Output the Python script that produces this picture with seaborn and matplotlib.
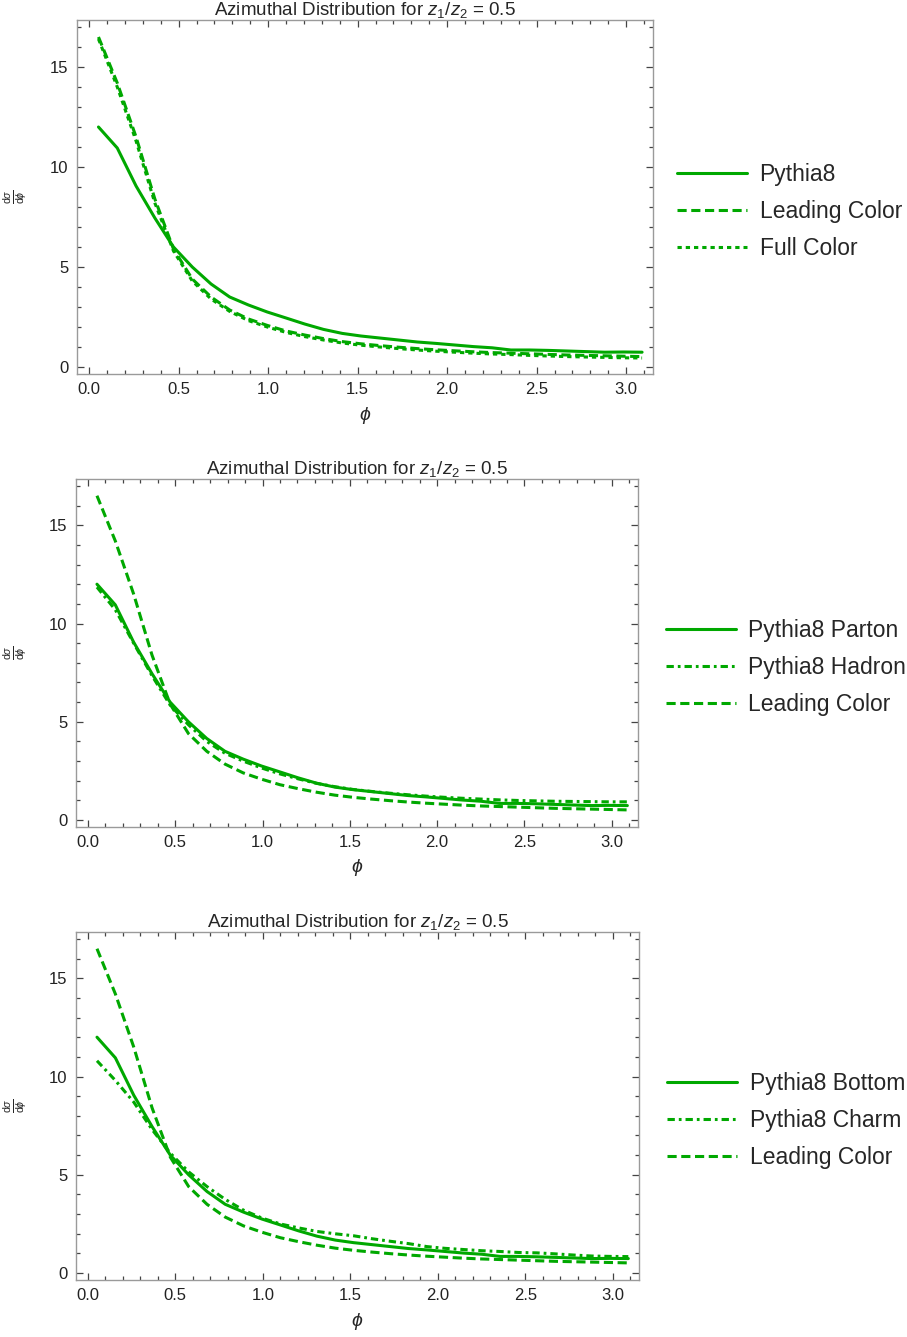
import numpy as np
import pandas as pd
import matplotlib
matplotlib.use("Agg")
import matplotlib.pyplot as plt
from matplotlib.ticker import MultipleLocator
import seaborn as sns

sns.set_style("white")
plt.rcParams["font.family"] = ["Liberation Sans", "DejaVu Sans"]
plt.rcParams["mathtext.fontset"] = "custom"
plt.rcParams["mathtext.rm"] = "Liberation Sans"
plt.rcParams["mathtext.it"] = "Liberation Sans:italic"

# bin centres in phi
phi = [0.052, 0.157, 0.262, 0.367, 0.471, 0.576, 0.681, 0.785, 0.890, 0.995,
       1.100, 1.204, 1.309, 1.414, 1.518, 1.623, 1.728, 1.833, 1.937, 2.042,
       2.147, 2.251, 2.356, 2.461, 2.566, 2.670, 2.775, 2.880, 2.985, 3.089]

pythia8 = [12.0, 10.95, 9.05, 7.45, 6.0, 5.0, 4.15, 3.5, 3.1, 2.75,
           2.45, 2.15, 1.88, 1.68, 1.55, 1.45, 1.35, 1.25, 1.18, 1.1,
           1.02, 0.96, 0.85, 0.85, 0.83, 0.8, 0.77, 0.74, 0.75, 0.74]

leading_color = [16.5, 14.2, 11.5, 8.4, 5.9, 4.4, 3.5, 2.85, 2.4, 2.08,
                 1.8, 1.6, 1.42, 1.27, 1.16, 1.07, 0.99, 0.92, 0.86, 0.81,
                 0.76, 0.72, 0.69, 0.66, 0.63, 0.6, 0.58, 0.56, 0.54, 0.52]

full_color = [16.4, 14.0, 11.3, 8.2, 5.8, 4.3, 3.4, 2.78, 2.32, 2.0,
              1.73, 1.52, 1.35, 1.2, 1.09, 1.0, 0.92, 0.85, 0.79, 0.74,
              0.69, 0.65, 0.62, 0.58, 0.55, 0.52, 0.5, 0.48, 0.46, 0.45]

pythia8_hadron = [11.85, 10.7, 9.0, 7.35, 5.85, 4.85, 4.0, 3.4, 3.0, 2.65,
                  2.35, 2.1, 1.87, 1.7, 1.56, 1.46, 1.37, 1.29, 1.22, 1.16,
                  1.11, 1.07, 1.03, 1.0, 0.98, 0.96, 0.95, 0.94, 0.93, 0.93]

pythia8_charm = [10.8, 9.8, 8.7, 7.3, 6.1, 5.15, 4.4, 3.75, 3.2, 2.8,
                 2.5, 2.3, 2.12, 2.0, 1.9, 1.75, 1.62, 1.5, 1.35, 1.26,
                 1.2, 1.14, 1.1, 1.05, 1.03, 0.98, 0.92, 0.87, 0.85, 0.84]

GREEN = "#00a800"
LW = 2.2
SOLID = ""
DASHED = (3.0, 1.5)
DOTTED = (1.4, 1.3)
DASHDOT = (2.4, 1.3, 0.9, 1.3)

panels = [
    [("Pythia8", pythia8, SOLID),
     ("Leading Color", leading_color, DASHED),
     ("Full Color", full_color, DOTTED)],
    [("Pythia8 Parton", pythia8, SOLID),
     ("Pythia8 Hadron", pythia8_hadron, DASHDOT),
     ("Leading Color", leading_color, DASHED)],
    [("Pythia8 Bottom", pythia8, SOLID),
     ("Pythia8 Charm", pythia8_charm, DASHDOT),
     ("Leading Color", leading_color, DASHED)],
]

W, H = 907, 1337
# axes boxes in pixels: left, right, top, bottom
boxes = [(77, 653, 20, 374), (76, 638, 479, 827), (76, 639, 932, 1280)]
legend_pos = [(677, 211.7), (666, 667.5), (667, 1120.7)]

fig = plt.figure(figsize=(W / 100, H / 100), dpi=100)

for series, (l, r, t, b), (lx, ly) in zip(panels, boxes, legend_pos):
    ax = fig.add_axes([l / W, 1 - b / H, (r - l) / W, (b - t) / H])
    frames = []
    for name, vals, dash in series:
        frames.append(pd.DataFrame({"phi": phi, "val": vals, "series": name}))
    df = pd.concat(frames, ignore_index=True)
    order = [s[0] for s in series]
    sns.lineplot(data=df, x="phi", y="val", style="series", style_order=order,
                 dashes={s[0]: s[2] for s in series}, color=GREEN, lw=LW,
                 estimator=None, sort=False, legend=False, ax=ax)

    ax.set_xlim(-0.068, 3.15)
    ax.set_ylim(-0.35, 17.35)
    ax.xaxis.set_major_locator(MultipleLocator(0.5))
    ax.xaxis.set_minor_locator(MultipleLocator(0.1))
    ax.yaxis.set_major_locator(MultipleLocator(5))
    ax.yaxis.set_minor_locator(MultipleLocator(1))
    ax.xaxis.set_major_formatter(matplotlib.ticker.FormatStrFormatter("%.1f"))
    ax.tick_params(which="both", direction="in", top=True, right=True,
                   bottom=True, left=True,
                   color="#444444", width=0.9, labelsize=12, labelcolor="#222222")
    ax.tick_params(which="major", length=5, pad=6)
    ax.tick_params(which="minor", length=3.2)
    for sp in ax.spines.values():
        sp.set_color("#9a9a9a")
        sp.set_linewidth(1.0)

    ax.set_title("Azimuthal Distribution for $z_1/z_2$ = 0.5", fontsize=13.5, pad=2)
    ax.set_xlabel(r"$\phi$", fontsize=14)
    ax.xaxis.set_label_coords(0.5, -41 / (b - t))
    ax.xaxis.label.set_va("center")
    ax.set_ylabel(r"$\frac{\mathrm{d}\sigma}{\mathrm{d}\phi}$", fontsize=11)
    ax.yaxis.set_label_coords(-(l - 16) / (r - l), 0.5)
    ax.yaxis.label.set_va("center")

    handles = ax.get_lines()[:len(series)]
    leg = fig.legend(handles, order, loc="center left",
                     bbox_to_anchor=(lx / W, 1 - ly / H), frameon=False,
                     fontsize=16.5, handlelength=3.05, handletextpad=0.55,
                     labelspacing=0.62, borderpad=0, borderaxespad=0)

fig.savefig("out.png", dpi=100)
